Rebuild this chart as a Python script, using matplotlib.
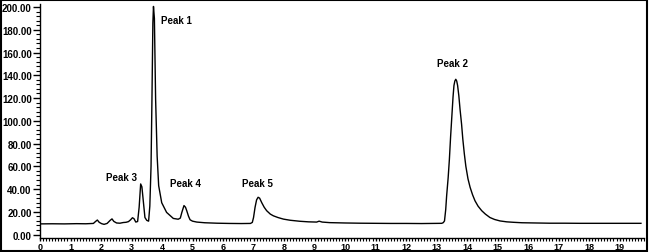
import matplotlib.pyplot as plt
from matplotlib.ticker import MultipleLocator, FormatStrFormatter
from matplotlib.patches import Rectangle

# retention time (min) and detector response
time = [0.0, 0.4, 0.8, 1.2, 1.5, 1.75, 1.82, 1.88, 1.94, 2.02, 2.1, 2.2, 2.3,
        2.36, 2.42, 2.51, 2.62, 2.73, 2.82, 2.9, 2.97, 3.03, 3.08, 3.14, 3.2,
        3.25, 3.3, 3.34, 3.38, 3.44, 3.5, 3.56, 3.6, 3.64, 3.67, 3.7, 3.72,
        3.75, 3.79, 3.84, 3.89, 3.99, 4.15, 4.37, 4.53, 4.6, 4.65, 4.72, 4.77,
        4.81, 4.87, 4.92, 5.0, 5.14, 5.4, 5.8, 6.2, 6.6, 6.9, 6.96, 7.0, 7.05,
        7.1, 7.15, 7.2, 7.27, 7.35, 7.43, 7.55, 7.65, 7.8, 7.98, 8.2, 8.52,
        8.8, 9.07, 9.15, 9.25, 9.5, 10.0, 10.5, 11.0, 11.5, 12.0, 12.5, 13.0,
        13.17, 13.22, 13.26, 13.3, 13.33, 13.38, 13.42, 13.46, 13.5, 13.54,
        13.57, 13.6, 13.63, 13.66, 13.69, 13.73, 13.77, 13.82, 13.86, 13.91,
        13.96, 14.03, 14.1, 14.18, 14.26, 14.36, 14.48, 14.6, 14.75, 14.9,
        15.08, 15.3, 15.52, 15.8, 16.2, 16.7, 17.2, 17.7, 18.2, 18.7, 19.2,
        19.7]
signal = [9.4, 9.5, 9.4, 9.6, 9.5, 9.8, 11.5, 12.8, 10.8, 9.6, 9.0, 9.8, 12.5,
          13.8, 11.6, 10.2, 10.0, 10.6, 10.8, 11.4, 13.0, 14.8, 14.0, 11.0,
          11.5, 24.0, 44.5, 42.0, 31.0, 15.0, 12.5, 11.8, 25.0, 60.0, 119.0,
          186.0, 200.5, 190.0, 119.0, 69.0, 43.0, 28.0, 19.5, 14.2, 13.5, 14.5,
          19.5, 25.5, 24.0, 21.0, 16.0, 13.0, 11.8, 11.0, 10.4, 10.0, 9.8, 9.7,
          9.8, 10.7, 15.0, 24.0, 30.5, 32.8, 32.0, 28.0, 24.0, 21.0, 18.0, 16.5,
          15.0, 13.6, 12.6, 11.7, 11.2, 11.0, 11.8, 11.0, 10.5, 10.2, 10.0, 9.9,
          9.8, 9.8, 9.7, 9.8, 9.9, 10.5, 12.0, 22.0, 34.0, 50.0, 66.0, 86.0,
          104.0, 121.0, 131.0, 135.0, 136.5, 135.0, 131.0, 122.0, 110.0, 97.0,
          84.0, 71.0, 60.0, 49.0, 41.5, 35.0, 29.7, 25.0, 21.0, 18.0, 15.0,
          13.3, 12.0, 11.2, 10.8, 10.4, 10.2, 10.0, 10.0, 9.9, 9.9, 9.9, 9.9,
          9.9]

peak_names = ['Peak 1', 'Peak 3', 'Peak 4', 'Peak 5', 'Peak 2']
peak_label_x = [4.48, 2.67, 4.78, 7.12, 13.52]
peak_label_y = [189.0, 51.0, 45.0, 45.0, 151.0]

fig = plt.figure(figsize=(6.49, 2.53), dpi=100)
ax = fig.add_axes([40 / 649, 14 / 253, 604 / 649, 234.4 / 253])

ax.plot(time, signal, color='black', linewidth=1.0)

for name, lx, ly in zip(peak_names, peak_label_x, peak_label_y):
    ax.text(lx, ly, name, ha='center', va='center', fontsize=7,
            fontweight='bold', family='Liberation Sans')

ax.set_xlim(0, 19.8)
ax.set_ylim(-3, 203)
ax.xaxis.set_major_locator(MultipleLocator(1))
ax.xaxis.set_minor_locator(MultipleLocator(0.1))
ax.yaxis.set_major_locator(MultipleLocator(20))
ax.yaxis.set_minor_locator(MultipleLocator(4))
ax.yaxis.set_major_formatter(FormatStrFormatter('%.2f'))

ax.spines['top'].set_visible(False)
ax.spines['right'].set_visible(False)
for side in ['left', 'bottom']:
    ax.spines[side].set_linewidth(1.0)

ax.tick_params(axis='y', which='major', labelsize=7, width=1.0, pad=1, length=5)
ax.tick_params(axis='y', which='minor', length=3, width=0.8)
ax.tick_params(axis='x', which='major', labelsize=6.5, width=1.0, pad=0.3, length=2.5)
ax.tick_params(axis='x', which='minor', length=2.5, width=0.8)
for lab in ax.get_xticklabels() + ax.get_yticklabels():
    lab.set_fontweight('bold')
    lab.set_family('Liberation Sans')

# frame round the whole picture
fig.patches.append(Rectangle((0.002, 0.004), 0.995, 0.992, transform=fig.transFigure,
                             fill=False, edgecolor='black', linewidth=1.5))

fig.savefig('out.png', dpi=100)
